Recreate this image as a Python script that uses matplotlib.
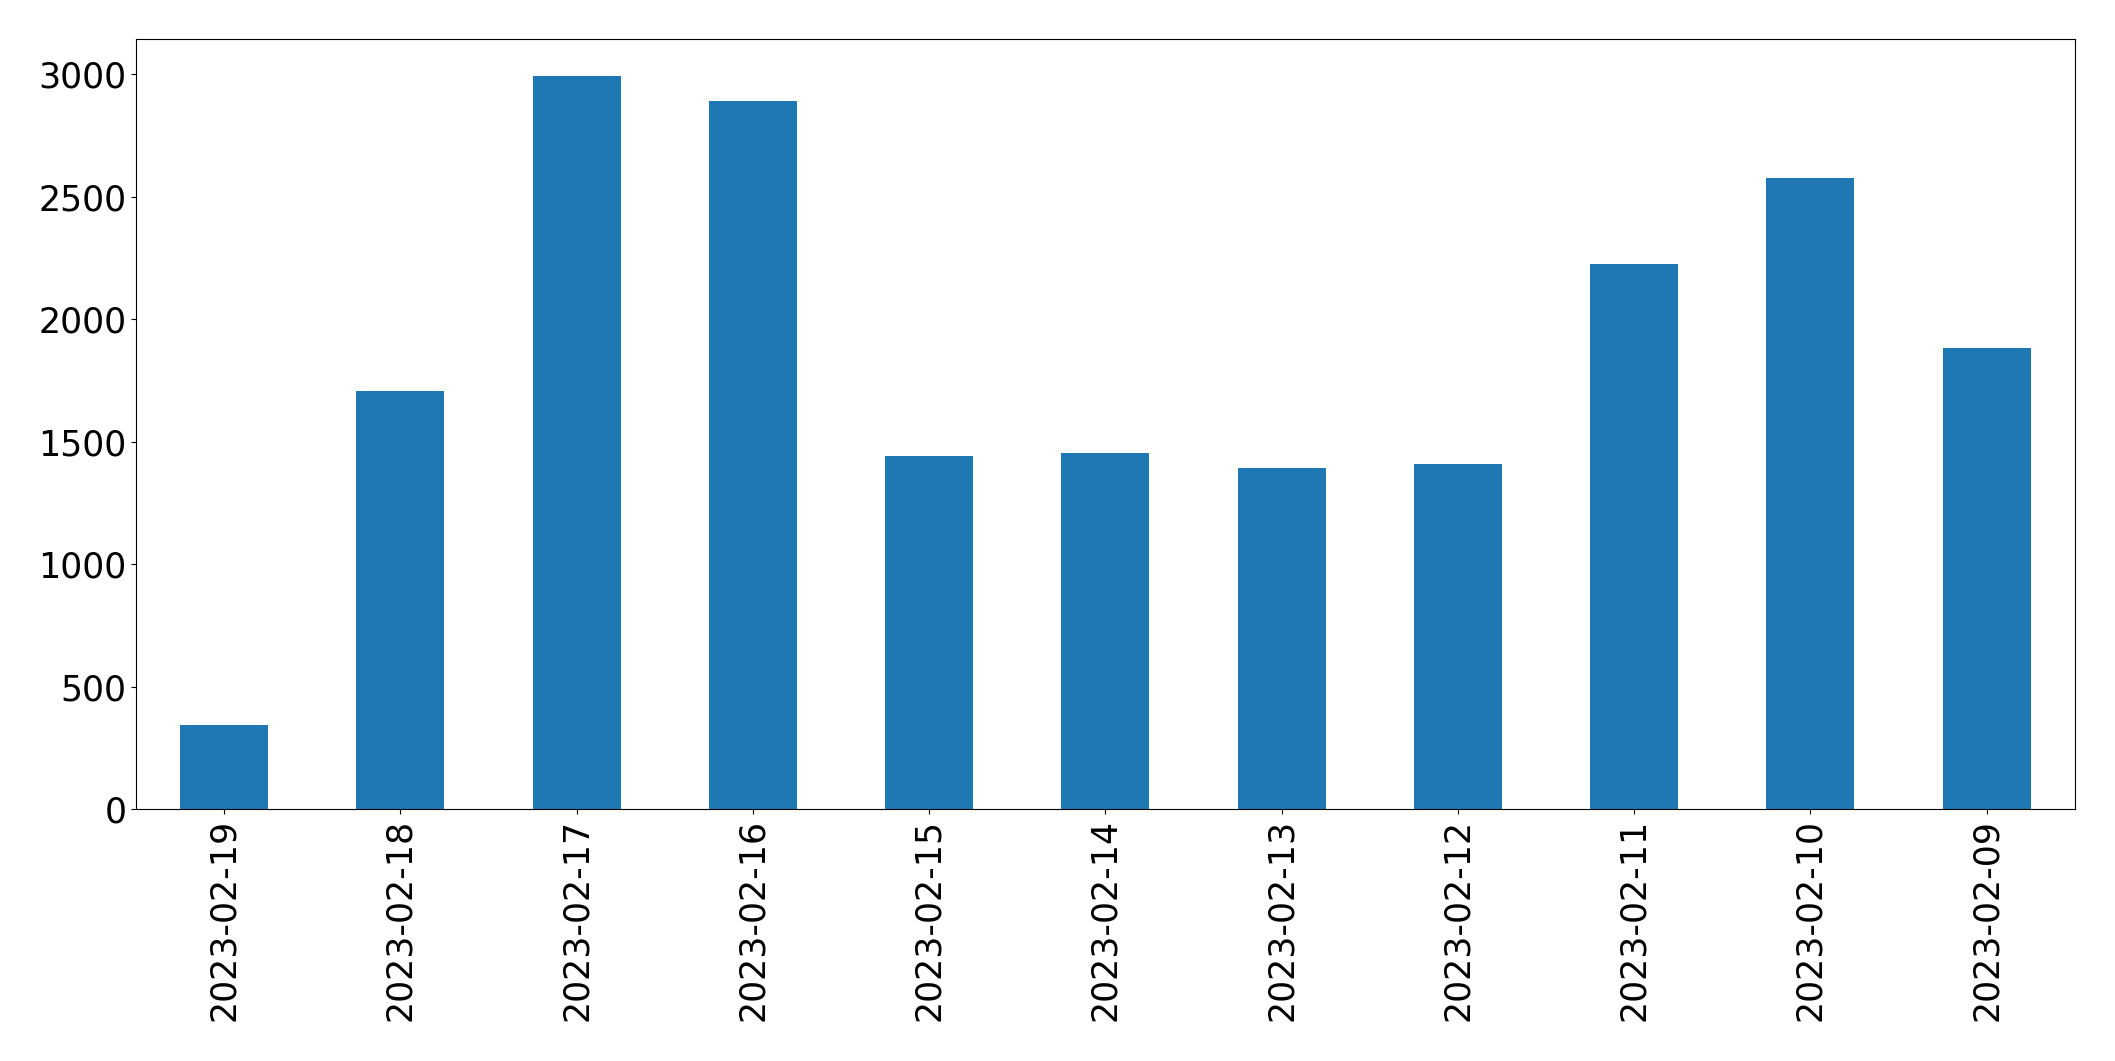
import matplotlib
matplotlib.use('Agg')
import matplotlib.pyplot as plt
import pandas as pd

# Daily counts
dates = ['2023-02-19', '2023-02-18', '2023-02-17', '2023-02-16', '2023-02-15',
         '2023-02-14', '2023-02-13', '2023-02-12', '2023-02-11', '2023-02-10',
         '2023-02-09']
counts = [343, 1707, 2993, 2891, 1441, 1454, 1392, 1409, 2225, 2577, 1882]

s = pd.Series(counts, index=dates)

fig, ax = plt.subplots(figsize=(21.15, 10.61), dpi=100)
s.plot(kind='bar', ax=ax, color='#1f77b4')
ax.tick_params(axis='both', labelsize=25)
plt.subplots_adjust(left=0.0643, right=0.981, top=0.963, bottom=0.2375)
plt.savefig('out.png', dpi=100)
